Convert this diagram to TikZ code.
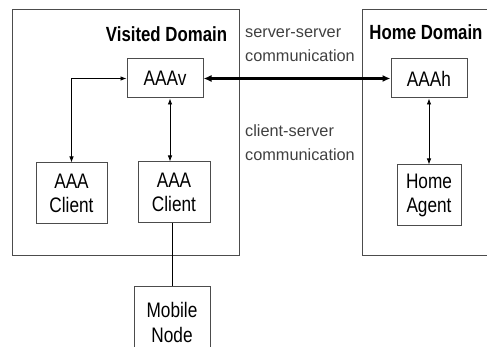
\documentclass[tikz,border=0pt]{standalone}
\usepackage{fontspec}
\setmainfont{Liberation Sans}
\newfontfamily\narrowfont{Liberation Sans}[FakeStretch=0.82]
\usetikzlibrary{arrows.meta}
\definecolor{edge}{gray}{0.3}
\tikzset{
  domainbox/.style={draw=edge, line width=1pt},
  unit/.style={draw=edge, line width=1pt, fill=white, inner sep=0pt, align=center,
     font=\narrowfont\fontsize{21}{24.5}\selectfont},
  title/.style={inner sep=0pt, anchor=base, font=\narrowfont\bfseries\fontsize{20.5}{24}\selectfont},
  lbl/.style={inner sep=0pt, anchor=north west, align=left, text=black!75,
     font=\fontsize{16.3}{24}\selectfont},
  dbl/.style={line width=0.8pt, {Latex[length=6pt,width=4.5pt]}-{Latex[length=6pt,width=4.5pt]}},
  thickdbl/.style={line width=2.4pt, {Latex[length=8pt,width=7pt]}-{Latex[length=8pt,width=7pt]}},
  plain/.style={line width=0.8pt}
}
\begin{document}
\begin{tikzpicture}[x=1pt,y=-1pt]
\useasboundingbox (0,0) rectangle (487,347);
\clip (0,0) rectangle (487,347);
% domains
\draw[domainbox] (12,10) rectangle (239,256);
\draw[domainbox] (362,10) rectangle (500,256);
\node[title] (vd) at (166.5,41.5) {Visited Domain};
\node[title] (hd) at (426,40) {Home Domain};
% units
\node[unit, minimum width=76pt, minimum height=39pt] (aaav) at (165,78.5) {AAAv};
\node[unit, minimum width=76pt, minimum height=39pt] (aaah) at (429,78.5) {AAAh};
\node[unit, minimum width=71pt, minimum height=61pt] (cl) at (71.5,193.5) {AAA\\Client};
\node[unit, minimum width=72pt, minimum height=61pt] (cm) at (174,192.5) {AAA\\Client};
\node[unit, minimum width=64pt, minimum height=61pt] (ha) at (429,195.5) {Home\\Agent};
\node[unit, minimum width=76pt, minimum height=72pt, anchor=north] (mn) at (172,286) {Mobile\\Node};
% labels
\node[lbl] (ss) at (245,29) {server-server\\communication};
\node[lbl] (cs) at (245,124) {client-server\\communication};
% connectors
\draw[dbl] (aaav.west) -| (cl.north);
\draw[dbl] ([xshift=5pt]aaav.south) -- ([xshift=5pt]aaav.south |- cm.north);
\draw[thickdbl] (aaav.east) -- (aaah.west);
\draw[dbl] (aaah.south) -- (ha.north);
\draw[plain] (mn.north |- cm.south) -- (mn.north);
\end{tikzpicture}
\end{document}
